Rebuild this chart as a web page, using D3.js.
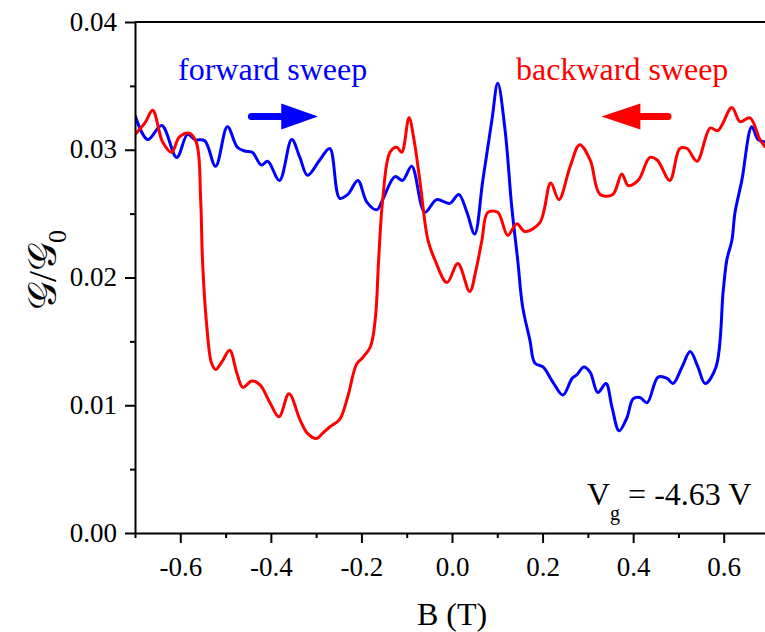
<!DOCTYPE html>
<html><head><meta charset="utf-8">
<script src="https://cdn.jsdelivr.net/npm/d3@7"></script>
<style>
html,body{margin:0;padding:0;background:#fff;}
svg{display:block;}
svg text{font-family:"Liberation Serif","Times New Roman",serif;}
</style></head>
<body>
<svg id="chart" width="765" height="632"></svg>
<script>
// ---- data ----
const fwdB = [-0.700,-0.672,-0.641,-0.608,-0.584,-0.568,-0.546,-0.522,-0.496,-0.474,-0.458,-0.441,-0.421,-0.407,-0.381,-0.354,-0.336,-0.319,-0.292,-0.270,-0.248,-0.230,-0.208,-0.188,-0.166,-0.153,-0.126,-0.109,-0.089,-0.060,-0.034,-0.005,0.015,0.033,0.050,0.068,0.088,0.101,0.117,0.132,0.145,0.156,0.172,0.183,0.201,0.223,0.245,0.265,0.276,0.291,0.305,0.322,0.340,0.353,0.369,0.386,0.400,0.415,0.431,0.455,0.475,0.488,0.508,0.526,0.543,0.559,0.583,0.599,0.607,0.618,0.625,0.640,0.662,0.676,0.692];
const fwdG = [0.0327,0.0308,0.0319,0.0294,0.0312,0.0308,0.0307,0.0287,0.0318,0.0302,0.0299,0.0298,0.0288,0.0291,0.0276,0.0308,0.0294,0.0280,0.0292,0.0301,0.0262,0.0265,0.0276,0.0259,0.0253,0.0261,0.0279,0.0276,0.0287,0.0251,0.0261,0.0258,0.0265,0.0251,0.0234,0.0276,0.0323,0.0352,0.0316,0.0255,0.0214,0.0177,0.0151,0.0133,0.0130,0.0118,0.0108,0.0121,0.0124,0.0130,0.0126,0.0110,0.0117,0.0099,0.0080,0.0090,0.0105,0.0106,0.0102,0.0122,0.0121,0.0117,0.0130,0.0142,0.0130,0.0117,0.0130,0.0190,0.0214,0.0229,0.0251,0.0276,0.0318,0.0308,0.0306];
const bwdB = [-0.700,-0.678,-0.661,-0.639,-0.619,-0.602,-0.580,-0.564,-0.555,-0.551,-0.542,-0.531,-0.522,-0.508,-0.491,-0.475,-0.462,-0.442,-0.424,-0.402,-0.382,-0.360,-0.336,-0.319,-0.299,-0.286,-0.270,-0.248,-0.230,-0.211,-0.198,-0.180,-0.169,-0.162,-0.153,-0.137,-0.122,-0.111,-0.095,-0.084,-0.071,-0.053,-0.038,-0.011,0.013,0.039,0.053,0.066,0.079,0.101,0.123,0.143,0.161,0.194,0.218,0.236,0.261,0.282,0.305,0.327,0.355,0.375,0.389,0.411,0.437,0.453,0.481,0.503,0.519,0.541,0.570,0.587,0.618,0.636,0.658,0.680,0.692];
const bwdG = [0.0312,0.0321,0.0331,0.0306,0.0298,0.0310,0.0313,0.0305,0.0261,0.0214,0.0164,0.0133,0.0128,0.0134,0.0143,0.0125,0.0114,0.0119,0.0116,0.0102,0.0091,0.0109,0.0089,0.0078,0.0074,0.0078,0.0083,0.0089,0.0107,0.0132,0.0137,0.0146,0.0169,0.0214,0.0261,0.0298,0.0302,0.0298,0.0325,0.0308,0.0276,0.0229,0.0214,0.0196,0.0211,0.0189,0.0206,0.0229,0.0251,0.0251,0.0233,0.0242,0.0236,0.0243,0.0274,0.0261,0.0287,0.0304,0.0292,0.0265,0.0265,0.0281,0.0272,0.0276,0.0294,0.0292,0.0276,0.0301,0.0301,0.0291,0.0317,0.0315,0.0333,0.0322,0.0325,0.0308,0.0302];
const xMajor = [-0.6,-0.4,-0.2,0.0,0.2,0.4,0.6];
const xMinor = [-0.7,-0.5,-0.3,-0.1,0.1,0.3,0.5,0.7];
const yMajor = [0.00,0.01,0.02,0.03,0.04];
const yMinor = [0.005,0.015,0.025,0.035];
const xTickLabels = ["-0.6","-0.4","-0.2","0.0","0.2","0.4","0.6"];
const yTickLabels = ["0.00","0.01","0.02","0.03","0.04"];

const FONT = "Liberation Serif, Times New Roman, serif";
const svg = d3.select("#chart");
const x = d3.scaleLinear().domain([-0.7,0.7]).range([135,769]);
const y = d3.scaleLinear().domain([0,0.04]).range([533,22]);

svg.append("defs").append("clipPath").attr("id","clip")
  .append("rect").attr("x",135).attr("y",22).attr("width",640).attr("height",511);

// curves
const line = d3.line().x(d=>x(d[0])).y(d=>y(d[1])).curve(d3.curveCatmullRom.alpha(0.5));
const fwd = fwdB.map((b,i)=>[b,fwdG[i]]);
const bwd = bwdB.map((b,i)=>[b,bwdG[i]]);
const g = svg.append("g").attr("clip-path","url(#clip)");
g.append("path").datum(fwd).attr("d",line).attr("fill","none").attr("stroke","#0000ff").attr("stroke-width",3).attr("stroke-linejoin","round");
g.append("path").datum(bwd).attr("d",line).attr("fill","none").attr("stroke","#ff0000").attr("stroke-width",3).attr("stroke-linejoin","round");

// axes
function styleAxis(sel){
  sel.attr("font-family",FONT).attr("font-size",27);
  sel.selectAll("path,line").attr("stroke","#000").attr("stroke-width",2);
  sel.selectAll("text").attr("fill","#000").attr("font-family",FONT).attr("font-size",27);
}
const xAx = svg.append("g").attr("transform","translate(0,533)")
  .call(d3.axisBottom(x).tickValues(xMajor).tickSize(10).tickSizeOuter(0).tickPadding(14).tickFormat((d,i)=>xTickLabels[i]));
styleAxis(xAx);
const xAxMin = svg.append("g").attr("transform","translate(0,533)")
  .call(d3.axisBottom(x).tickValues(xMinor).tickSize(5).tickSizeOuter(0).tickFormat(""));
styleAxis(xAxMin); xAxMin.select(".domain").remove();

const yAx = svg.append("g").attr("transform","translate(135,0)")
  .call(d3.axisLeft(y).tickValues(yMajor).tickSize(10).tickSizeOuter(0).tickPadding(8).tickFormat((d,i)=>yTickLabels[i]));
styleAxis(yAx);
yAx.selectAll("text").attr("dy","0.3em");
const yAxMin = svg.append("g").attr("transform","translate(135,0)")
  .call(d3.axisLeft(y).tickValues(yMinor).tickSize(5).tickSizeOuter(0).tickFormat(""));
styleAxis(yAxMin); yAxMin.select(".domain").remove();

// top border
svg.append("line").attr("x1",x(-0.7)).attr("x2",x(0.7)).attr("y1",y(0.04)).attr("y2",y(0.04))
  .attr("stroke","#000").attr("stroke-width",2);

// axis titles
svg.append("text").attr("x",x(0)).attr("y",625).attr("text-anchor","middle")
  .attr("font-size",32).text("B (T)");
const yt = svg.append("text").attr("transform","translate(56,270) rotate(-90)").attr("text-anchor","middle")
  .attr("font-size",40);
yt.append("tspan").text("\u{1D4A2}/\u{1D4A2}");
yt.append("tspan").attr("dy","10").attr("font-size",26).text("0");

// annotations
svg.append("text").attr("x",178).attr("y",80).attr("fill","#0000ff").attr("font-size",32).text("forward sweep");
svg.append("text").attr("x",516).attr("y",80).attr("fill","#ff0000").attr("font-size",32).text("backward sweep");

// arrows
const arrowY = 0.0326;
svg.append("line").attr("x1",x(-0.443)).attr("x2",x(-0.375)).attr("y1",y(arrowY)).attr("y2",y(arrowY))
  .attr("stroke","#0000ff").attr("stroke-width",7).attr("stroke-linecap","round");
svg.append("path").attr("fill","#0000ff")
  .attr("d",`M${x(-0.377)},${y(arrowY)-13}L${x(-0.296)},${y(arrowY)}L${x(-0.377)},${y(arrowY)+13}Z`);
svg.append("line").attr("x1",x(0.414)).attr("x2",x(0.477)).attr("y1",y(arrowY)).attr("y2",y(arrowY))
  .attr("stroke","#ff0000").attr("stroke-width",7).attr("stroke-linecap","round");
svg.append("path").attr("fill","#ff0000")
  .attr("d",`M${x(0.416)},${y(arrowY)-13}L${x(0.330)},${y(arrowY)}L${x(0.416)},${y(arrowY)+13}Z`);

// Vg label
const vg = svg.append("text").attr("x",587).attr("y",505).attr("font-size",32);
vg.append("tspan").text("V");
vg.append("tspan").attr("dy","15").attr("font-size",20).text("g");
vg.append("tspan").attr("dy","-15").text(" = -4.63 V");
</script>
</body></html>
